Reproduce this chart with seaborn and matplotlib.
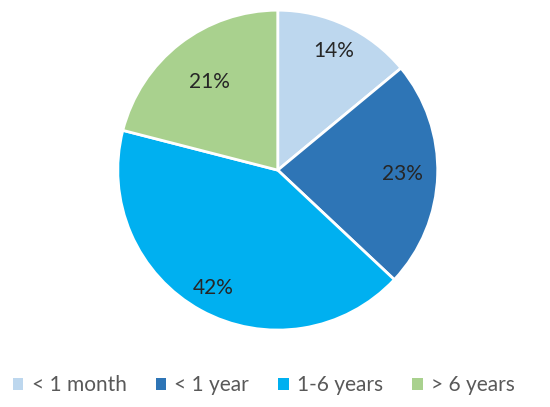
import matplotlib
matplotlib.use("Agg")
import matplotlib.pyplot as plt
import seaborn as sns
from matplotlib.patches import Patch

categories = ["< 1 month", "< 1 year", "1-6 years", "> 6 years"]
values = [14, 23, 42, 21]
colors = ["#BDD7EE", "#2E75B6", "#00B0F0", "#A9D18E"]
label_dist = [0.82, 0.78, 0.84, 0.70]

sns.set_theme(style="white")
plt.rcParams['font.family'] = ['Lato', 'DejaVu Sans']
palette = sns.color_palette(colors)

fig = plt.figure(figsize=(5.5, 4.07), dpi=100)
ax = fig.add_axes([0.214, 0.189, 0.582, 0.786])
wedges, texts, autotexts = ax.pie(
    values, colors=palette, startangle=90, counterclock=False,
    autopct=lambda p: f"{p:.0f}%", pctdistance=1.0,
    wedgeprops=dict(edgecolor="white", linewidth=2),
    textprops=dict(color="#262626", fontsize=15),
)
for t, d in zip(autotexts, label_dist):
    x, y = t.get_position()
    t.set_position((x * d, y * d))
ax.set_xlim(-1.0, 1.0)
ax.set_ylim(-1.0, 1.0)
ax.set_aspect("equal")

handles = [Patch(facecolor=c, edgecolor="none") for c in palette]
fig.legend(handles, categories, loc="center", bbox_to_anchor=(0.48, 0.054),
           ncol=4, frameon=False, fontsize=15, handlelength=0.5, handleheight=0.5,
           handletextpad=0.4, columnspacing=1.4, labelcolor="#595959")

fig.savefig("out.png", dpi=100)
